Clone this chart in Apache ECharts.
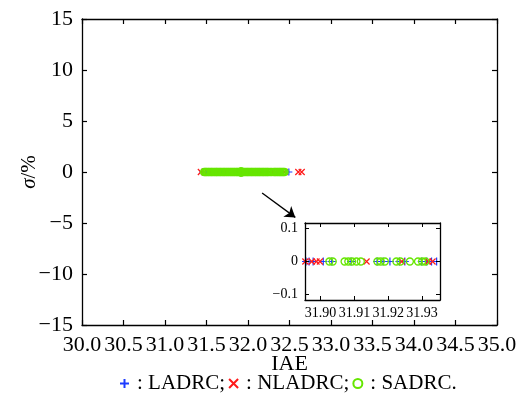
<!DOCTYPE html>
<html>
<head>
<meta charset="utf-8">
<script src="https://cdn.jsdelivr.net/npm/echarts@6/dist/echarts.min.js"></script>
<style>
  html, body { margin: 0; padding: 0; background: #fff; }
  #chart { width: 526px; height: 400px; }
</style>
</head>
<body>
<div id="chart"></div>
<script>
// IAE of each run for the three controllers (σ of every run is 0 %)
const ladrcIAE = [
  31.452, 31.503, 31.561, 31.618, 31.682, 31.731, 31.792, 31.851,
  31.8957, 31.8966, 31.8978, 31.9008, 31.9033, 31.9090, 31.9167, 31.9185,
  31.9205, 31.9233, 31.9249, 31.9299, 31.9314, 31.9328, 31.9343,
  31.962, 32.011, 32.074, 32.123, 32.181, 32.238, 32.292, 32.351, 32.408, 32.492
];
const nladrcIAE = [
  31.432, 31.471, 31.552, 31.641, 31.712, 31.803, 31.862,
  31.8955, 31.8974, 31.8988, 31.8998, 31.9136, 31.9240, 31.9318, 31.9331,
  31.981, 32.062, 32.153, 32.257, 32.301, 32.365, 32.441, 32.606, 32.647
];
const sadrcIAE = [
  31.472, 31.488, 31.501, 31.519, 31.534, 31.552, 31.566, 31.583, 31.601,
  31.617, 31.630, 31.648, 31.664, 31.679, 31.697, 31.712, 31.728, 31.745,
  31.761, 31.778, 31.794, 31.809, 31.826, 31.841, 31.858, 31.872, 31.887,
  31.9026, 31.9036, 31.9071, 31.9082, 31.9093, 31.9106, 31.9119, 31.9168,
  31.9178, 31.9190, 31.9224, 31.9236, 31.9264, 31.9288, 31.9300, 31.9310,
  31.941, 31.956, 31.973, 31.989, 32.004, 32.021, 32.038, 32.052, 32.069,
  32.086, 32.101, 32.118, 32.134, 32.149, 32.167, 32.182, 32.198, 32.215,
  32.231, 32.246, 32.268, 32.287, 32.312, 32.327, 32.344, 32.361,
  32.378, 32.392, 32.409, 32.424, 32.440
];
const SIGMA = 0;

// axis ranges and tick labels
const xRange = [30, 35], xStep = 0.5;
const yRange = [-15, 15], yStep = 5;
const zoomX = [31.8954, 31.9353];
const zoomY = [-0.116, 0.116];
const zoomXTicks = [31.90, 31.91, 31.92, 31.93];
const zoomYTicks = [-0.1, 0, 0.1];
// arrow from the cluster to the enlarged view (data coordinates)
const arrowFrom = [32.17, -2.06];
const arrowTo = [32.57, -4.45];

const FONT = 'Liberation Serif';
const BLUE = '#1e3cff', RED = '#ff1a1a', GREEN = '#66e600';
const PLUS = 'path://M0,5L10,5M5,0L5,10';
const CROSS = 'path://M1,1L9,9M9,1L1,9';

const pts = arr => arr.map(v => [v, SIGMA]);
const minus = s => String(s).replace('-', '\u2212');

function axisBase(extra) {
  return Object.assign({
    type: 'value',
    axisLine: { show: true, onZero: false, lineStyle: { color: '#000', width: 1.3 } },
    axisTick: { show: true, inside: true, length: 5, lineStyle: { color: '#000', width: 1.2 } },
    splitLine: { show: false },
    axisLabel: { color: '#000', fontFamily: FONT, fontSize: 22 }
  }, extra);
}

const chart = echarts.init(document.getElementById('chart'), null, { renderer: 'canvas' });

const mk = (name, data, sym, size, color, bw, x, y, z) => ({
  name, type: 'scatter', data: pts(data), symbol: sym, symbolSize: size,
  xAxisIndex: x, yAxisIndex: y, clip: true, silent: true, z,
  itemStyle: { color: 'rgba(0,0,0,0)', borderColor: color, borderWidth: bw, opacity: 1 }
});

const insetTick = { show: true, inside: true, length: 4, customValues: zoomXTicks, lineStyle: { color: '#000', width: 1 } };
const insetYTick = Object.assign({}, insetTick, { customValues: zoomYTicks });

chart.setOption({
  animation: false,
  backgroundColor: '#fff',
  textStyle: { fontFamily: FONT },
  grid: [
    { left: 82, right: 29, top: 19, bottom: 75 },
    { left: 305, top: 223, width: 135, height: 77, show: true, backgroundColor: '#fff', borderWidth: 0 }
  ],
  legend: {
    data: ['LADRC', 'NLADRC', 'SADRC'],
    left: 114, top: 368,
    itemWidth: 9, itemHeight: 9, itemGap: 3,
    formatter: n => ': ' + n + (n === 'SADRC' ? '.' : ';'),
    textStyle: { fontFamily: FONT, fontSize: 21, color: '#000', padding: [0, 0, 0, 3] }
  },
  xAxis: [
    axisBase({
      gridIndex: 0, min: xRange[0], max: xRange[1], interval: xStep, position: 'bottom',
      name: 'IAE', nameLocation: 'middle', nameGap: 28, nameMoveOverlap: false,
      nameTextStyle: { fontFamily: FONT, fontSize: 22, color: '#000', verticalAlign: 'top' },
      axisLabel: { color: '#000', fontFamily: FONT, fontSize: 22, margin: 9, formatter: v => v.toFixed(1) }
    }),
    axisBase({ gridIndex: 0, min: xRange[0], max: xRange[1], interval: xStep, position: 'top', axisLabel: { show: false } }),
    axisBase({
      gridIndex: 1, min: zoomX[0], max: zoomX[1], position: 'bottom', z: 12,
      axisTick: insetTick,
      axisLabel: { color: '#000', fontFamily: FONT, fontSize: 14, margin: 6, customValues: zoomXTicks, formatter: v => v.toFixed(2) }
    }),
    axisBase({
      gridIndex: 1, min: zoomX[0], max: zoomX[1], position: 'top', z: 12,
      axisTick: insetTick, axisLabel: { show: false }
    })
  ],
  yAxis: [
    axisBase({
      gridIndex: 0, min: yRange[0], max: yRange[1], interval: yStep, position: 'left',
      name: '{i|σ}/%', nameLocation: 'middle', nameGap: 42, nameMoveOverlap: false,
      nameTextStyle: { fontFamily: FONT, fontSize: 21, color: '#000', rich: { i: { fontFamily: FONT, fontSize: 21, fontStyle: 'italic' } } },
      axisLabel: { color: '#000', fontFamily: FONT, fontSize: 22, margin: 9, formatter: v => minus(v) }
    }),
    axisBase({ gridIndex: 0, min: yRange[0], max: yRange[1], interval: yStep, position: 'right', axisLabel: { show: false } }),
    axisBase({
      gridIndex: 1, min: zoomY[0], max: zoomY[1], position: 'left', z: 12,
      axisTick: insetYTick,
      axisLabel: { color: '#000', fontFamily: FONT, fontSize: 14, margin: 7, customValues: zoomYTicks, formatter: v => v === 0 ? '0' : minus(v.toFixed(1)) }
    }),
    axisBase({
      gridIndex: 1, min: zoomY[0], max: zoomY[1], position: 'right', z: 12,
      axisTick: insetYTick, axisLabel: { show: false }
    })
  ],
  series: [
    mk('LADRC', ladrcIAE, PLUS, 7, BLUE, 1.2, 0, 0, 2),
    mk('NLADRC', nladrcIAE, CROSS, 6, RED, 1.2, 0, 0, 2),
    mk('SADRC', sadrcIAE, 'circle', 7, GREEN, 1.6, 0, 0, 2),
    mk('LADRC', ladrcIAE, PLUS, 8, BLUE, 1.2, 2, 2, 10),
    mk('NLADRC', nladrcIAE, CROSS, 6, RED, 1.2, 2, 2, 10),
    mk('SADRC', sadrcIAE, 'circle', 7, GREEN, 1.3, 2, 2, 10),
    {
      name: 'arrow', type: 'scatter', data: [], xAxisIndex: 0, yAxisIndex: 0, silent: true, z: 3,
      markLine: {
        silent: true, animation: false,
        symbol: ['none', 'arrow'], symbolSize: 10,
        label: { show: false },
        lineStyle: { color: '#000', width: 1.3, type: 'solid' },
        data: [[{ coord: arrowFrom }, { coord: arrowTo }]]
      }
    }
  ]
});
</script>
</body>
</html>
